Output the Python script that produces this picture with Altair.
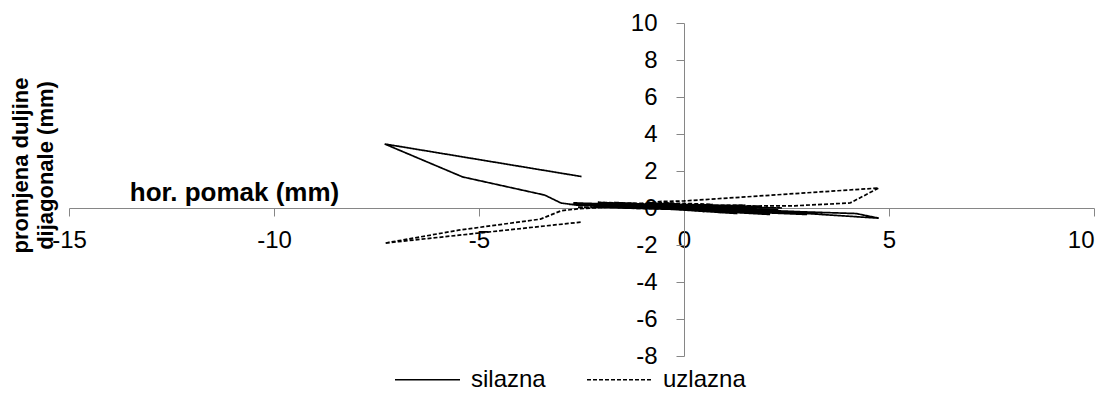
import altair as alt
import pandas as pd

# silazna (solid) path
sil_x = [0, 0.3, -0.3, 0.5, -0.5, 0.7, -0.7, 0.9, -0.9, 1.1, -1.1, 1.3, -1.3, 1.5, -1.5,
         1.7, -1.7, 1.9, -1.9, 2.1, -2.1, 2.3, -2.2, 2.5, -2.3, 2.7, -2.5, 3.0, -2.7, 3.4,
         -2.8, 0.0, 4.2, 4.75, 4.4, 3.0, 1.5, 0.0, -1.5, -2.6, -3.0, -3.4, -5.4, -7.3, -2.5]
sil_y = [0, -0.15, 0.2, -0.2, 0.3, -0.05, 0.1, -0.25, 0.3, -0.1, 0.05, -0.3, 0.25, -0.15,
         0.1, -0.3, 0.3, -0.2, 0.15, -0.35, 0.3, -0.1, 0.05, -0.25, 0.25, -0.2, 0.15, -0.35,
         0.28, -0.25, 0.2, 0.0, -0.3, -0.55, -0.5, -0.3, -0.2, 0.0, 0.12, 0.15, 0.27, 0.7,
         1.68, 3.46, 1.7]

# uzlazna (dashed) path
uzl_x = [0, -0.3, 0.3, -0.5, 0.5, -0.7, 0.7, -0.9, 0.9, -1.1, 1.1, -1.3, 1.3, -1.5, 1.5,
         -1.7, 1.7, -1.9, 1.9, -2.1, 2.1, -2.3, 2.3, -2.4, 2.4, -2.6, 2.7, 4.05, 4.75, 0.0,
         -0.6, -1.5, -2.6, -3.0, -3.5, -5.5, -7.3, -2.5]
uzl_y = [0, 0.15, -0.15, 0.25, -0.05, 0.0, 0.2, 0.3, -0.2, 0.1, 0.1, 0.25, -0.15, 0.0, 0.15,
         0.2, -0.1, 0.05, 0.1, 0.3, -0.15, 0.15, 0.0, 0.2, 0.0, 0.05, 0.12, 0.27, 1.08, 0.38,
         0.35, 0.1, -0.05, -0.15, -0.6, -1.2, -1.9, -0.76]

series_names = ["silazna", "uzlazna"]
x_ticks = [-15, -10, -5, 0, 5, 10]
y_ticks = [-8, -6, -4, -2, 0, 2, 4, 6, 8, 10]

rows = []
for i, (x, y) in enumerate(zip(sil_x, sil_y)):
    rows.append({"x": x, "y": y, "s": series_names[0], "i": i})
for i, (x, y) in enumerate(zip(uzl_x, uzl_y)):
    rows.append({"x": x, "y": y, "s": series_names[1], "i": i})
df = pd.DataFrame(rows)

W, H = 1025, 333
FONT = "Liberation Sans"
AX = "#868686"
LBL = "'' + datum.value"

x_axis = alt.Axis(
    values=x_ticks, grid=False, offset=-148, domainColor=AX, tickColor=AX, tickSize=8,
    labelFont=FONT, labelFontSize=24, labelColor="black", labelPadding=12,
    labelOverlap=False, labelFlush=False, labelBound=False, labelExpr=LBL,
    labelAlign=alt.condition("datum.value == 10", alt.value("right"), alt.value("center")),
    title="hor. pomak (mm)", titleFont=FONT, titleFontSize=26, titleFontWeight="bold",
    titleColor="black", titleX=165, titleY=-8, titleAlign="center",
    titleBaseline="alphabetic", titleAnchor="start",
)
y_axis = alt.Axis(
    values=y_ticks, grid=False, offset=-615, domainColor=AX, tickColor=AX, tickSize=8,
    labelFont=FONT, labelFontSize=24, labelColor="black", labelPadding=19,
    labelOverlap=False, labelFlush=False, labelBound=False, labelExpr=LBL,
    title=["promjena duljine", "dijagonale (mm)"], titleFont=FONT, titleFontSize=22,
    titleFontWeight="bold", titleColor="black", titleX=-674, titleY=142,
    titleAlign="center", titleBaseline="top", titleAngle=270, titleAnchor="start",
    titleLineHeight=25,
)

chart = alt.Chart(df).mark_line(strokeWidth=1.7, color="black").encode(
    x=alt.X("x:Q", scale=alt.Scale(domain=[-15, 10], nice=False, zero=False), axis=x_axis),
    y=alt.Y("y:Q", scale=alt.Scale(domain=[-8, 10], nice=False, zero=False), axis=y_axis),
    strokeDash=alt.StrokeDash(
        "s:N",
        scale=alt.Scale(domain=series_names, range=[[1, 0], [4, 2]]),
        legend=alt.Legend(
            title=None, orient="none", legendX=325, legendY=323, direction="horizontal",
            symbolType="stroke", symbolSize=4225, symbolStrokeColor="black",
            symbolStrokeWidth=1.5, labelFont=FONT, labelFontSize=24, labelColor="black",
            labelOffset=10, columnPadding=38, symbolOffset=0,
        ),
    ),
    detail="s:N",
    order="i:Q",
).properties(
    width=W, height=H, background="white",
    padding={"left": 61, "top": 15, "right": 6, "bottom": 38},
    autosize=alt.AutoSizeParams(type="none"),
).configure_view(strokeWidth=0)

chart.save("out.html", embed_options={"renderer": "svg", "actions": False})
